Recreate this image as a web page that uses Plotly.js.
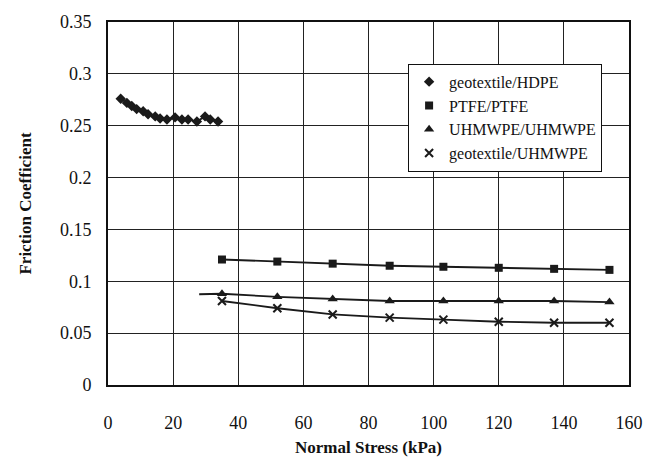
<!DOCTYPE html>
<html>
<head>
<meta charset="utf-8">
<script src="https://cdn.plot.ly/plotly-3.0.1.min.js"></script>
<style>html,body{margin:0;padding:0;background:#fff;}#chart{width:645px;height:460px;}</style>
</head>
<body>
<div id="chart"></div>
<script>
// Data
const hdpeX = [3.9, 5.8, 7.3, 8.8, 10.8, 12.3, 14.5, 16.0, 18.1, 20.6, 22.7, 24.6, 27.3, 29.8, 31.4, 33.8];
const hdpeY = [0.276, 0.272, 0.269, 0.266, 0.264, 0.261, 0.259, 0.257, 0.256, 0.258, 0.256, 0.256, 0.254, 0.259, 0.256, 0.254];

const ptfeX = [35, 52, 69, 86.5, 103, 120, 137, 154];
const ptfeY = [0.121, 0.119, 0.117, 0.115, 0.114, 0.113, 0.112, 0.111];

const uhmX = [28, 35, 52, 69, 86.5, 103, 120, 137, 154];
const uhmY = [0.0875, 0.088, 0.085, 0.083, 0.081, 0.081, 0.081, 0.081, 0.080];

const geoUX = [35, 52, 69, 86.5, 103, 120, 137, 154];
const geoUY = [0.081, 0.074, 0.068, 0.065, 0.063, 0.061, 0.060, 0.060];

const seriesNames = ['geotextile/HDPE', 'PTFE/PTFE', 'UHMWPE/UHMWPE', 'geotextile/UHMWPE'];
const xTicks = [0, 20, 40, 60, 80, 100, 120, 140, 160];
const yTicks = [0, 0.05, 0.1, 0.15, 0.2, 0.25, 0.3, 0.35];
const yTickText = ['0', '0.05', '0.1', '0.15', '0.2', '0.25', '0.3', '0.35'];

const ink = '#1a1a1a';
const series = [
  {x: hdpeX, y: hdpeY, symbol: 'diamond', size: 8},
  {x: ptfeX, y: ptfeY, symbol: 'square', size: 8},
  {x: uhmX, y: uhmY, symbol: 'triangle-up', size: 9},
  {x: geoUX, y: geoUY, symbol: 'x-thin-open', size: 8}
];

const traces = [];
series.forEach((s, i) => {
  traces.push({x: s.x, y: s.y, mode: 'lines', line: {color: ink, width: 1.8}, showlegend: false, hoverinfo: 'skip'});
});
series.forEach((s, i) => {
  const mx = (i === 2) ? s.x.slice(1) : s.x;
  const my = (i === 2) ? s.y.slice(1) : s.y;
  traces.push({
    x: mx, y: my, mode: 'markers', name: seriesNames[i],
    marker: {symbol: s.symbol, size: s.size, color: ink, line: {color: ink, width: s.symbol === 'x-thin-open' ? 2 : 0}}
  });
});

const layout = {
  width: 645, height: 460,
  margin: {l: 108, r: 16, t: 22, b: 75},
  paper_bgcolor: '#fff', plot_bgcolor: '#fff',
  font: {family: '"Liberation Serif", "Times New Roman", serif', color: '#111', size: 16},
  showlegend: true,
  legend: {
    x: 0.576, y: 0.885, xanchor: 'left', yanchor: 'top',
    bgcolor: '#fff', bordercolor: '#111', borderwidth: 1,
    font: {family: '"Liberation Serif", serif', size: 16, color: '#111'},
    tracegroupgap: 0, itemwidth: 30
  },
  xaxis: {
    range: [0, 160], tickvals: xTicks, ticktext: xTicks.map(String),
    showgrid: true, gridcolor: '#222', gridwidth: 1,
    showline: true, linecolor: '#111', linewidth: 2, mirror: true,
    ticks: '', ticklabelstandoff: 20, zeroline: false,
    tickfont: {size: 18},
    title: {text: '<b>Normal Stress (kPa)</b>', font: {size: 17}, standoff: 10}
  },
  yaxis: {
    range: [0, 0.35], tickvals: yTicks, ticktext: yTickText,
    showgrid: true, gridcolor: '#222', gridwidth: 1,
    showline: true, linecolor: '#111', linewidth: 2, mirror: true,
    ticks: '', ticklabelstandoff: 11, zeroline: false,
    tickfont: {size: 18},
    title: {text: '<b>Friction Coefficient</b>', font: {size: 17}, standoff: 24}
  }
};

Plotly.newPlot('chart', traces, layout, {displayModeBar: false, staticPlot: true});
</script>
</body>
</html>
